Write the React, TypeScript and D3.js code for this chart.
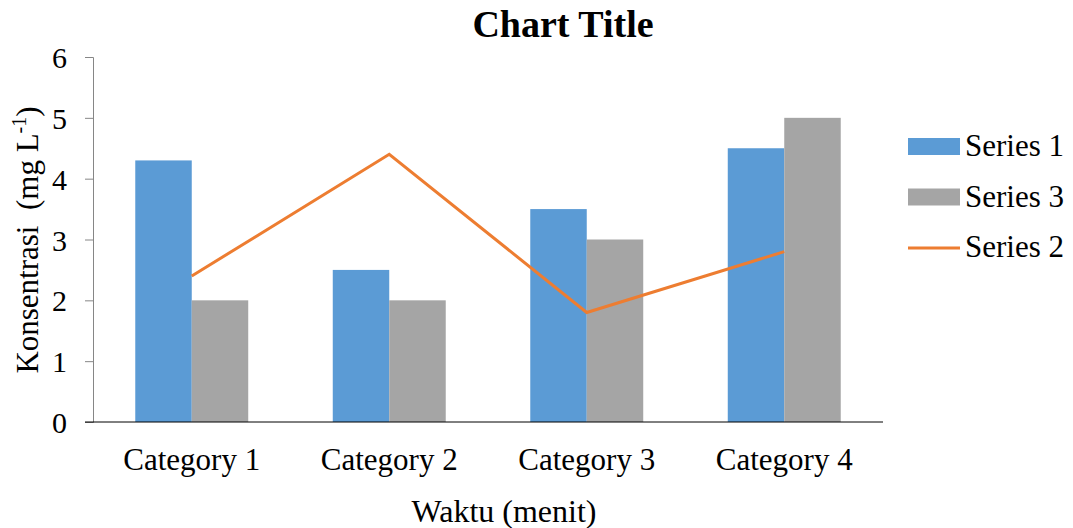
import React, { useEffect, useRef } from 'react';
import * as d3 from 'd3';

const categories = ['Category 1', 'Category 2', 'Category 3', 'Category 4'];
const series1 = [4.3, 2.5, 3.5, 4.5];
const series3 = [2, 2, 3, 5];
const series2 = [2.4, 4.4, 1.8, 2.8];
const yTicks = [0, 1, 2, 3, 4, 5, 6];

const W = 1073, H = 528;
const FONT = '"Liberation Serif", "Times New Roman", serif';
const BLUE = '#5B9BD5', GRAY = '#A5A5A5', ORANGE = '#ED7D31';

export default function App() {
  const ref = useRef<SVGSVGElement>(null);

  useEffect(() => {
    const svg = d3.select(ref.current);
    svg.selectAll('*').remove();

    const left = 93, right = 883, top = 57, bottom = 422;

    const x = d3.scaleBand().domain(categories).range([left, right]).paddingInner(0.428).paddingOuter(0.214);
    const y = d3.scaleLinear().domain([0, 6]).range([bottom, top]);
    const bw = x.bandwidth() / 2;

    svg.append('text')
      .attr('x', 563).attr('y', 37)
      .attr('text-anchor', 'middle')
      .attr('font-family', FONT).attr('font-weight', 'bold').attr('font-size', 38)
      .text('Chart Title');

    // bars
    const g = svg.append('g');
    g.selectAll('.s1').data(series1).enter().append('rect')
      .attr('x', (d, i) => x(categories[i])!)
      .attr('y', d => y(d))
      .attr('width', bw)
      .attr('height', d => bottom - y(d))
      .attr('fill', BLUE);
    g.selectAll('.s3').data(series3).enter().append('rect')
      .attr('x', (d, i) => x(categories[i])! + bw)
      .attr('y', d => y(d))
      .attr('width', bw)
      .attr('height', d => bottom - y(d))
      .attr('fill', GRAY);

    // line
    const line = d3.line<number>()
      .x((d, i) => x(categories[i])! + x.bandwidth() / 2)
      .y(d => y(d));
    svg.append('path')
      .datum(series2)
      .attr('d', line)
      .attr('fill', 'none')
      .attr('stroke', ORANGE)
      .attr('stroke-width', 3);

    // y axis
    const yAxis = svg.append('g').attr('transform', `translate(${left},0)`)
      .call(d3.axisLeft(y).tickValues(yTicks).tickSize(8).tickFormat(d3.format('d')));
    yAxis.select('.domain').attr('stroke', '#868686').attr('stroke-width', 1);
    yAxis.selectAll('.tick line').attr('stroke', '#868686');
    yAxis.selectAll('.tick text')
      .attr('font-family', FONT).attr('font-size', 30).attr('fill', '#000')
      .attr('x', -26).attr('dy', '0.35em');

    // x axis
    svg.append('line')
      .attr('x1', left - 8).attr('x2', right)
      .attr('y1', bottom).attr('y2', bottom)
      .attr('stroke', '#000').attr('stroke-width', 1);

    svg.append('g').selectAll('text').data(categories).enter().append('text')
      .attr('x', d => x(d)! + x.bandwidth() / 2)
      .attr('y', 470)
      .attr('text-anchor', 'middle')
      .attr('font-family', FONT).attr('font-size', 31)
      .text(d => d);

    svg.append('text')
      .attr('x', 504).attr('y', 522)
      .attr('text-anchor', 'middle')
      .attr('font-family', FONT).attr('font-size', 32)
      .text('Waktu (menit)');

    const yt = svg.append('text')
      .attr('transform', 'translate(38,240) rotate(-90)')
      .attr('text-anchor', 'middle')
      .attr('font-family', FONT).attr('font-size', 31);
    yt.append('tspan').text('Konsentrasi\u00A0 (mg L');
    yt.append('tspan').attr('font-size', 20).attr('dy', -12).text('-1');
    yt.append('tspan').attr('dy', 12).text(')');

    // legend
    const legend = [
      { name: 'Series 1', color: BLUE, type: 'rect' },
      { name: 'Series 3', color: GRAY, type: 'rect' },
      { name: 'Series 2', color: ORANGE, type: 'line' },
    ];
    const lg = svg.append('g');
    legend.forEach((d, i) => {
      const cy = 146 + i * 50.5;
      if (d.type === 'rect') {
        lg.append('rect').attr('x', 908).attr('y', cy - 8).attr('width', 52).attr('height', 17).attr('fill', d.color);
      } else {
        lg.append('line').attr('x1', 908).attr('x2', 960).attr('y1', cy + 1).attr('y2', cy + 1)
          .attr('stroke', d.color).attr('stroke-width', 3);
      }
      lg.append('text')
        .attr('x', 965).attr('y', cy + 10)
        .attr('font-family', FONT).attr('font-size', 31)
        .text(d.name);
    });
  }, []);

  return <svg ref={ref} width={W} height={H} style={{ position: 'absolute', left: 0, top: 0, background: '#fff' }} />;
}
